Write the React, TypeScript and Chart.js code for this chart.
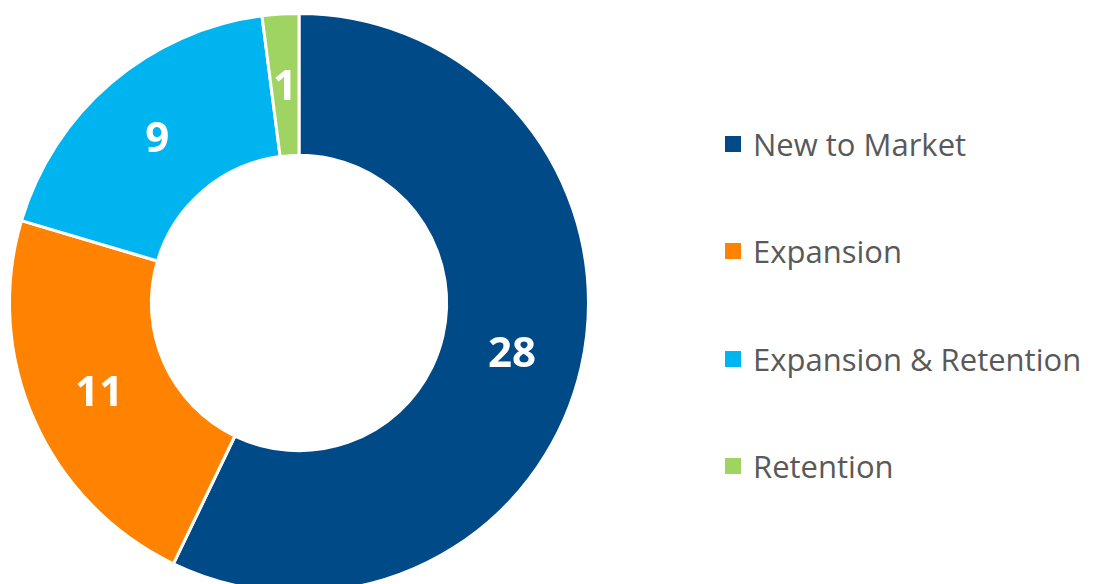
import React, { useEffect, useRef } from "react";
import { Chart, registerables } from "chart.js";

Chart.register(...registerables);

const categories = ["New to Market", "Expansion", "Expansion & Retention", "Retention"];
const values = [28, 11, 9, 1];
const colors = ["#004A87", "#FF8200", "#00B4F0", "#A0D462"];

const labelPlugin = {
  id: "sliceLabels",
  afterDatasetsDraw(chart: any) {
    const ctx = chart.ctx;
    const meta = chart.getDatasetMeta(0);
    ctx.save();
    ctx.fillStyle = "#FFFFFF";
    ctx.font = "bold 42px 'Open Sans', sans-serif";
    ctx.textAlign = "center";
    ctx.textBaseline = "middle";
    meta.data.forEach((arc: any, i: number) => {
      const p = arc.tooltipPosition();
      ctx.fillText(String(values[i]), p.x, p.y + 3);
    });
    ctx.restore();
  },
};

export default function App() {
  const ref = useRef<HTMLCanvasElement | null>(null);
  useEffect(() => {
    if (!ref.current) return;
    const chart = new Chart(ref.current, {
      type: "doughnut",
      data: {
        labels: categories,
        datasets: [
          {
            data: values,
            backgroundColor: colors,
            borderColor: "#FFFFFF",
            borderWidth: 3,
          },
        ],
      },
      options: {
        animation: false,
        responsive: true,
        maintainAspectRatio: false,
        cutout: "51%",
        layout: { padding: { left: 8, top: 12, right: 10, bottom: 26 } },
        plugins: { legend: { display: false }, tooltip: { enabled: false } },
      },
      plugins: [labelPlugin],
    });
    return () => chart.destroy();
  }, []);

  return (
    <div
      style={{
        position: "fixed",
        left: 0,
        top: 0,
        width: 1094,
        height: 584,
        overflow: "hidden",
        background: "#FFFFFF",
      }}
    >
      <div style={{ position: "absolute", left: 0, top: 0, width: 600, height: 620 }}>
        <canvas ref={ref} />
      </div>
      {categories.map((c, i) => (
        <div
          key={c}
          style={{
            position: "absolute",
            left: 725,
            top: 145 + i * 107.4 - 21,
            height: 40,
            display: "flex",
            alignItems: "center",
            whiteSpace: "nowrap",
            fontFamily: "'Open Sans', sans-serif",
            fontSize: 31,
            color: "#595959",
          }}
        >
          <span
            style={{
              display: "inline-block",
              width: 16,
              height: 16,
              background: colors[i],
              marginRight: 12,
            }}
          />
          <span>{c}</span>
        </div>
      ))}
    </div>
  );
}
